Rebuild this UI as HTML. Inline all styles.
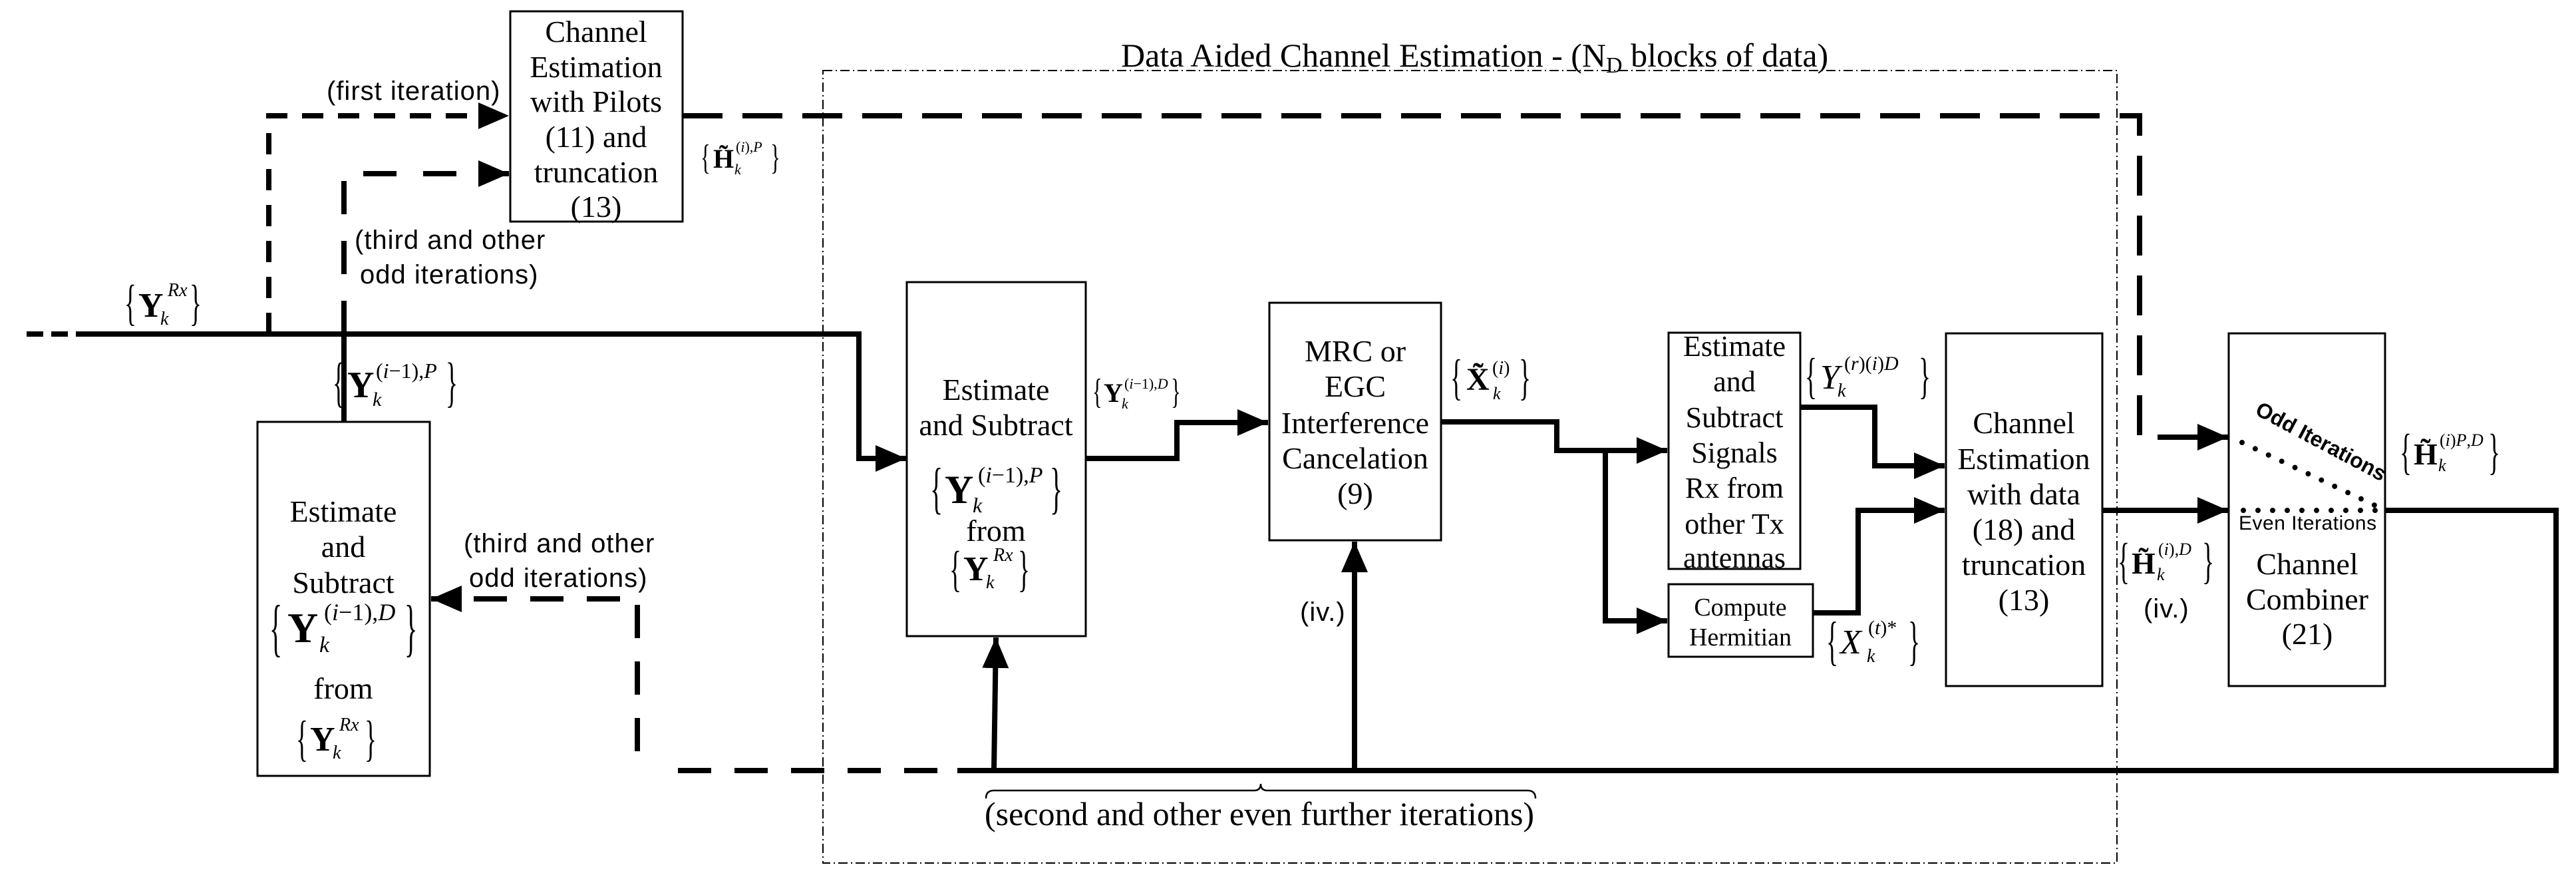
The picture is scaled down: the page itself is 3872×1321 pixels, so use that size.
<!DOCTYPE html>
<html><head><meta charset="utf-8"><style>
html,body{margin:0;padding:0;background:#fff}
svg{display:block}
.s{font-family:"Liberation Serif",serif;fill:#000}
.a{font-family:"Liberation Sans",sans-serif;fill:#000}
</style></head><body>
<svg width="3872" height="1321" viewBox="0 0 3872 1321" xmlns="http://www.w3.org/2000/svg">
<defs>
<marker id="ar" markerUnits="userSpaceOnUse" markerWidth="50" markerHeight="40" refX="46" refY="20" orient="auto">
<path d="M0,0 L46,20 L0,40 Z" fill="#000"/>
</marker>
</defs>
<g fill="none" stroke="#000">
<rect x="1237" y="106" width="1945" height="1191" stroke-width="2" stroke-dasharray="14,5,2,5"/>
<rect x="767" y="17" width="259" height="316" stroke-width="3"/>
<rect x="387" y="634" width="259" height="532" stroke-width="3"/>
<rect x="1363" y="424" width="269" height="532" stroke-width="3"/>
<rect x="1908" y="455" width="258" height="357" stroke-width="3"/>
<rect x="2508" y="500" width="198" height="355" stroke-width="3"/>
<rect x="2508" y="878" width="217" height="109" stroke-width="3"/>
<rect x="2925" y="501" width="235" height="530" stroke-width="3"/>
<rect x="3350" y="501" width="235" height="530" stroke-width="3"/>

<path d="M40,502 H129" stroke-width="8" stroke-dasharray="25,12"/>
<path d="M129,502 H1291 V689 H1362" stroke-width="8" marker-end="url(#ar)"/>
<path d="M404,502 V174 H765" stroke-width="8" stroke-dasharray="32,22" marker-end="url(#ar)"/>
<path d="M517,634 V502" stroke-width="8"/>
<path d="M517,502 V261 H765" stroke-width="8" stroke-dasharray="50,40" marker-end="url(#ar)"/>
<path d="M1026,174 H3216 V657 H3349" stroke-width="8" stroke-dasharray="60,30" marker-end="url(#ar)"/>
<path d="M1632,689 H1769 V635 H1906" stroke-width="8" marker-end="url(#ar)"/>
<path d="M2166,634 H2340 V677 H2506" stroke-width="8" marker-end="url(#ar)"/>
<path d="M2413,677 V933 H2506" stroke-width="8" marker-end="url(#ar)"/>
<path d="M2706,612 H2818 V700 H2923" stroke-width="8" marker-end="url(#ar)"/>
<path d="M2725,921 H2793 V767 H2923" stroke-width="8" marker-end="url(#ar)"/>
<path d="M3160,767 H3349" stroke-width="8" marker-end="url(#ar)"/>
<path d="M3586,767 H3842 V1158 H1439" stroke-width="8"/>
<path d="M1409,1158 H991" stroke-width="8" stroke-dasharray="50,35"/>
<path d="M958,1129 V900 H648" stroke-width="8" stroke-dasharray="50,35" marker-end="url(#ar)"/>
<path d="M1494,1158 L1497,958" stroke-width="8" marker-end="url(#ar)"/>
<path d="M2036,1158 V814" stroke-width="8" marker-end="url(#ar)"/>
<path d="M3370,665 L3575,762" stroke-width="8" stroke-linecap="round" stroke-dasharray="0,22"/>
<path d="M3372,767 H3578" stroke-width="8" stroke-linecap="round" stroke-dasharray="0,22"/>
<path d="M1482,1200 Q1482,1188 1494,1188 H1885 Q1895,1188 1895,1178 Q1895,1188 1905,1188 H2296 Q2308,1188 2308,1200" stroke-width="2.5"/>
</g>

<text class="s" x="1685" y="100" font-size="50">Data Aided Channel Estimation - (N<tspan font-size="34" dy="9">D</tspan><tspan dy="-9"> blocks of data)</tspan></text>

<g class="s" font-size="46" text-anchor="middle">
<text x="896" y="63">Channel</text>
<text x="896" y="116">Estimation</text>
<text x="896" y="168">with Pilots</text>
<text x="896" y="221">(11) and</text>
<text x="896" y="274">truncation</text>
<text x="896" y="326">(13)</text>

<text x="516" y="784">Estimate</text>
<text x="516" y="837">and</text>
<text x="516" y="891">Subtract</text>
<text x="516" y="1050">from</text>

<text x="1497" y="601">Estimate</text>
<text x="1497" y="654">and Subtract</text>
<text x="1497" y="813">from</text>

<text x="2037" y="543">MRC or</text>
<text x="2037" y="596">EGC</text>
<text x="2037" y="651">Interference</text>
<text x="2037" y="704">Cancelation</text>
<text x="2037" y="757">(9)</text>

<text x="2607" y="535" font-size="44">Estimate</text>
<text x="2607" y="588" font-size="44">and</text>
<text x="2607" y="642" font-size="44">Subtract</text>
<text x="2607" y="695" font-size="44">Signals</text>
<text x="2607" y="748" font-size="44">Rx from</text>
<text x="2607" y="802" font-size="44">other Tx</text>
<text x="2607" y="853" font-size="44">antennas</text>

<text x="2616" y="925" font-size="38">Compute</text>
<text x="2616" y="970" font-size="38">Hermitian</text>

<text x="3042" y="651">Channel</text>
<text x="3042" y="705">Estimation</text>
<text x="3042" y="758">with data</text>
<text x="3042" y="811">(18) and</text>
<text x="3042" y="864">truncation</text>
<text x="3042" y="917">(13)</text>

<text x="3468" y="863">Channel</text>
<text x="3468" y="916">Combiner</text>
<text x="3468" y="968">(21)</text>
</g>

<g class="a" font-size="40" letter-spacing="1">
<text x="491" y="150">(first iteration)</text>
<text x="533" y="374">(third and other</text>
<text x="541" y="426">odd iterations)</text>
<text x="697" y="830">(third and other</text>
<text x="705" y="882">odd iterations)</text>
<text x="1954" y="933">(iv.)</text>
<text x="3222" y="928">(iv.)</text>
<text x="3365" y="796" font-size="30" letter-spacing="0.5">Even Iterations</text>
<text x="0" y="0" font-size="32" font-weight="bold" letter-spacing="0" transform="translate(3388,622) rotate(28)">Odd Iterations</text>
</g>
<text class="s" x="1480" y="1240" font-size="50">(second and other even further iterations)</text>

<g class="s">
<!-- Y Rx top-left -->
<text transform="translate(187,480) scale(0.75,1.5)" font-size="50">{</text>
<text x="208" y="476" font-size="52" font-weight="bold">Y</text>
<text x="252" y="445" font-size="28" font-style="italic">Rx</text>
<text x="241" y="488" font-size="28" font-style="italic">k</text>
<text transform="translate(285,480) scale(0.75,1.5)" font-size="50">}</text>

<!-- Y(i-1),P near line -->
<text transform="translate(500,602) scale(0.75,1.65)" font-size="50">{</text>
<text x="522" y="597" font-size="56" font-weight="bold">Y</text>
<text x="565" y="568" font-size="32">(<tspan font-style="italic">i</tspan>−1),<tspan font-style="italic">P</tspan></text>
<text x="560" y="610" font-size="30" font-style="italic">k</text>
<text transform="translate(670,602) scale(0.75,1.65)" font-size="50">}</text>

<!-- lower box Y(i-1),D -->
<text transform="translate(405,975) scale(0.8,1.9)" font-size="50">{</text>
<text x="432" y="965" font-size="64" font-weight="bold">Y</text>
<text x="487" y="932" font-size="36">(<tspan font-style="italic">i</tspan>−1),<tspan font-style="italic">D</tspan></text>
<text x="480" y="980" font-size="34" font-style="italic">k</text>
<text transform="translate(608,975) scale(0.8,1.9)" font-size="50">}</text>
<!-- lower box Y Rx -->
<text transform="translate(445,1135) scale(0.75,1.5)" font-size="50">{</text>
<text x="466" y="1128" font-size="52" font-weight="bold">Y</text>
<text x="510" y="1098" font-size="28" font-style="italic">Rx</text>
<text x="500" y="1140" font-size="28" font-style="italic">k</text>
<text transform="translate(548,1135) scale(0.75,1.5)" font-size="50">}</text>

<!-- H pilots -->
<text transform="translate(1053,254) scale(0.7,1.2)" font-size="44">{</text>
<text x="1072" y="252" font-size="40" font-weight="bold">H̃</text>
<text x="1106" y="228" font-size="22">(<tspan font-style="italic">i</tspan>),<tspan font-style="italic">P</tspan></text>
<text x="1104" y="262" font-size="22" font-style="italic">k</text>
<text transform="translate(1158,254) scale(0.7,1.2)" font-size="44">}</text>

<!-- box2 Y(i-1),P -->
<text transform="translate(1398,762) scale(0.8,1.7)" font-size="50">{</text>
<text x="1420" y="756" font-size="60" font-weight="bold">Y</text>
<text x="1470" y="725" font-size="34">(<tspan font-style="italic">i</tspan>−1),<tspan font-style="italic">P</tspan></text>
<text x="1462" y="770" font-size="32" font-style="italic">k</text>
<text transform="translate(1578,762) scale(0.8,1.7)" font-size="50">}</text>
<!-- box2 Y Rx -->
<text transform="translate(1427,880) scale(0.75,1.5)" font-size="50">{</text>
<text x="1448" y="872" font-size="52" font-weight="bold">Y</text>
<text x="1493" y="843" font-size="28" font-style="italic">Rx</text>
<text x="1482" y="884" font-size="28" font-style="italic">k</text>
<text transform="translate(1530,880) scale(0.75,1.5)" font-size="50">}</text>

<!-- Y(i-1),D small -->
<text transform="translate(1642,606) scale(0.7,1.2)" font-size="44">{</text>
<text x="1659" y="604" font-size="40" font-weight="bold">Y</text>
<text x="1690" y="584" font-size="22">(<tspan font-style="italic">i</tspan>−1),<tspan font-style="italic">D</tspan></text>
<text x="1686" y="614" font-size="22" font-style="italic">k</text>
<text transform="translate(1760,606) scale(0.7,1.2)" font-size="44">}</text>

<!-- X tilde -->
<text transform="translate(2180,592) scale(0.75,1.5)" font-size="50">{</text>
<text x="2204" y="586" font-size="48" font-weight="bold">X̃</text>
<text x="2243" y="562" font-size="28">(<tspan font-style="italic">i</tspan>)</text>
<text x="2244" y="600" font-size="26" font-style="italic">k</text>
<text transform="translate(2283,592) scale(0.75,1.5)" font-size="50">}</text>

<!-- Y(r)(i)D -->
<text transform="translate(2713,590) scale(0.75,1.5)" font-size="50">{</text>
<text x="2736" y="584" font-size="52" font-style="italic">Y</text>
<text x="2772" y="556" font-size="30">(<tspan font-style="italic">r</tspan>)(<tspan font-style="italic">i</tspan>)<tspan font-style="italic">D</tspan></text>
<text x="2762" y="596" font-size="28" font-style="italic">k</text>
<text transform="translate(2884,590) scale(0.75,1.5)" font-size="50">}</text>

<!-- X(t)* -->
<text transform="translate(2745,990) scale(0.75,1.6)" font-size="50">{</text>
<text x="2766" y="982" font-size="52" font-style="italic">X</text>
<text x="2808" y="953" font-size="30">(<tspan font-style="italic">t</tspan>)*</text>
<text x="2806" y="995" font-size="28" font-style="italic">k</text>
<text transform="translate(2868,990) scale(0.75,1.6)" font-size="50">}</text>

<!-- H(i),D -->
<text transform="translate(3183,868) scale(0.75,1.5)" font-size="50">{</text>
<text x="3204" y="862" font-size="46" font-weight="bold">H̃</text>
<text x="3244" y="834" font-size="26">(<tspan font-style="italic">i</tspan>),<tspan font-style="italic">D</tspan></text>
<text x="3242" y="872" font-size="26" font-style="italic">k</text>
<text transform="translate(3310,868) scale(0.75,1.5)" font-size="50">}</text>

<!-- H(i)P,D -->
<text transform="translate(3607,704) scale(0.75,1.5)" font-size="50">{</text>
<text x="3628" y="698" font-size="46" font-weight="bold">H̃</text>
<text x="3667" y="670" font-size="26">(<tspan font-style="italic">i</tspan>)<tspan font-style="italic">P</tspan>,<tspan font-style="italic">D</tspan></text>
<text x="3665" y="708" font-size="26" font-style="italic">k</text>
<text transform="translate(3740,704) scale(0.75,1.5)" font-size="50">}</text>
</g>
</svg>
</body></html>
